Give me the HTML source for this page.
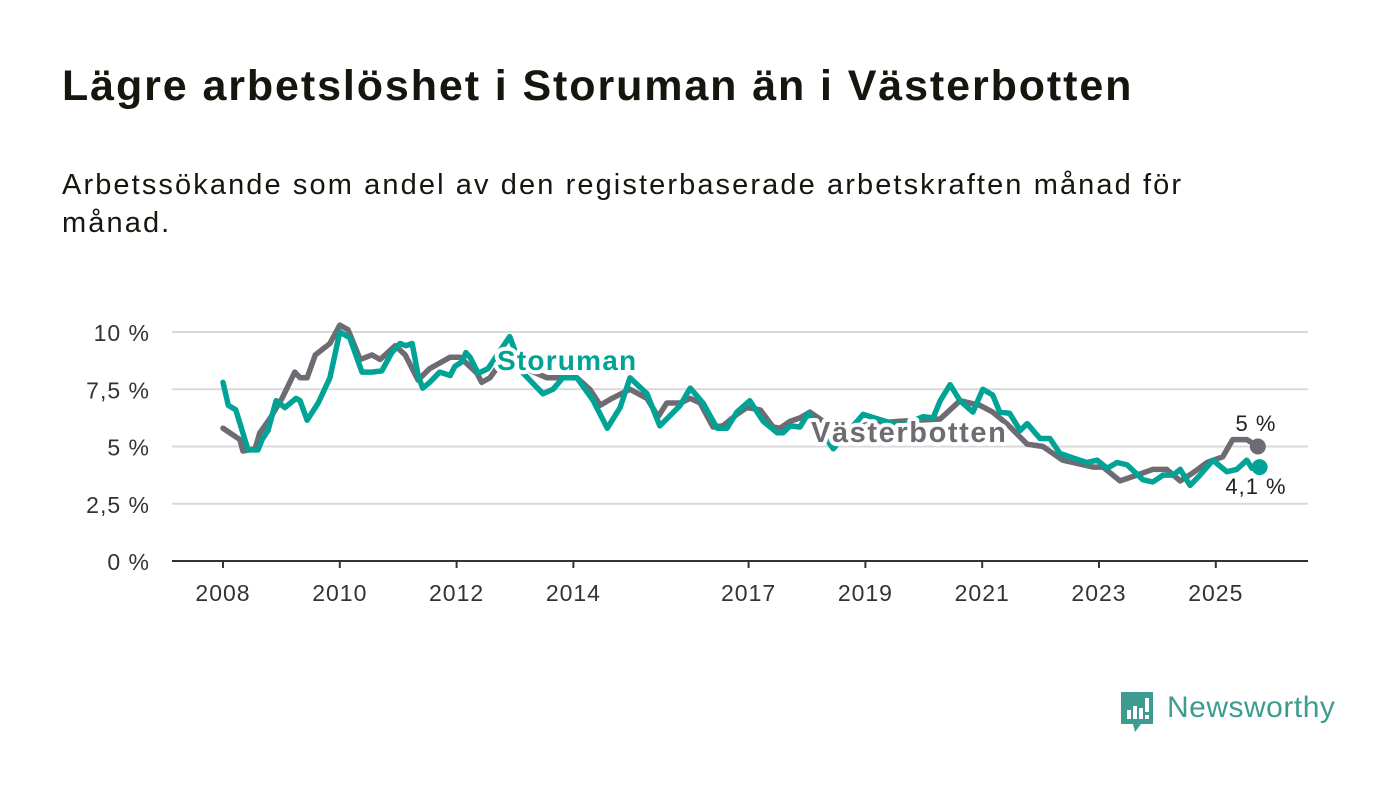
<!DOCTYPE html>
<html><head><meta charset="utf-8"><style>
body{margin:0;width:1400px;height:794px;background:#fff;font-family:"Liberation Sans",sans-serif;overflow:hidden;position:relative}
h1{position:absolute;left:62px;top:62px;margin:0;font-size:43px;font-weight:bold;color:#16160f;letter-spacing:1.9px}
p{position:absolute;left:62px;top:166px;margin:0;font-size:29px;line-height:38px;color:#16160f;width:1200px;letter-spacing:2.1px}
svg{position:absolute;left:0;top:0}
</style></head><body>
<h1>Lägre arbetslöshet i Storuman än i Västerbotten</h1>
<p>Arbetssökande som andel av den registerbaserade arbetskraften månad för månad.</p>
<svg id="c" width="1400" height="794"></svg>
<script>
const yTicks=[0,2.5,5,7.5,10];
const yTickLabels=["0 %","2,5 %","5 %","7,5 %","10 %"];
const xTicks=[2008,2010,2012,2014,2017,2019,2021,2023,2025];
const vbYears=[2008.00,2008.29,2008.34,2008.55,2008.63,2008.80,2009.01,2009.23,2009.32,2009.44,2009.58,2009.83,2010.00,2010.14,2010.35,2010.55,2010.69,2010.95,2011.12,2011.34,2011.54,2011.89,2012.06,2012.35,2012.43,2012.57,2012.74,2013.09,2013.55,2014.06,2014.28,2014.46,2014.66,2014.97,2015.26,2015.45,2015.60,2015.83,2016.00,2016.17,2016.39,2016.56,2016.80,2016.97,2017.20,2017.42,2017.54,2017.71,2017.88,2018.05,2018.57,2019.08,2019.59,2020.28,2020.62,2020.96,2021.18,2021.42,2021.77,2022.04,2022.38,2022.90,2023.07,2023.36,2023.65,2023.92,2024.16,2024.39,2024.61,2024.85,2025.12,2025.29,2025.53,2025.72];
const vbValues=[5.8,5.3,4.8,4.9,5.6,6.2,7.1,8.25,8.0,8.0,9.0,9.5,10.3,10.1,8.8,9.0,8.8,9.4,9.0,7.9,8.4,8.9,8.9,8.2,7.8,8.0,8.6,8.5,8.0,8.0,7.5,6.8,7.1,7.5,7.1,6.3,6.9,6.9,7.1,6.9,5.85,5.9,6.4,6.7,6.6,5.85,5.8,6.1,6.25,6.5,5.6,6.0,6.1,6.2,7.0,6.8,6.5,6.0,5.1,5.0,4.4,4.1,4.1,3.5,3.75,4.0,4.0,3.5,3.85,4.3,4.55,5.3,5.3,5.0];
const stYears=[2008.00,2008.09,2008.22,2008.43,2008.60,2008.67,2008.77,2008.91,2009.06,2009.25,2009.32,2009.44,2009.63,2009.83,2010.00,2010.17,2010.38,2010.55,2010.72,2010.89,2011.03,2011.13,2011.24,2011.34,2011.42,2011.54,2011.71,2011.89,2011.97,2012.09,2012.16,2012.23,2012.37,2012.54,2012.91,2013.14,2013.48,2013.65,2013.82,2014.06,2014.34,2014.58,2014.80,2014.97,2015.26,2015.48,2015.83,2016.00,2016.22,2016.46,2016.63,2016.80,2017.02,2017.25,2017.49,2017.59,2017.71,2017.88,2018.02,2018.45,2018.96,2019.59,2019.99,2020.16,2020.28,2020.45,2020.62,2020.84,2021.01,2021.18,2021.30,2021.47,2021.65,2021.77,2021.99,2022.16,2022.33,2022.55,2022.79,2022.97,2023.14,2023.31,2023.48,2023.75,2023.92,2024.10,2024.27,2024.39,2024.56,2024.73,2024.95,2025.19,2025.36,2025.53,2025.62,2025.75];
const stValues=[7.8,6.8,6.6,4.85,4.85,5.3,5.7,7.0,6.7,7.1,7.0,6.15,6.9,8.0,10.0,9.75,8.25,8.25,8.3,9.1,9.5,9.4,9.5,8.1,7.55,7.8,8.25,8.1,8.5,8.7,9.1,8.9,8.2,8.4,9.8,8.2,7.3,7.5,8.0,8.0,7.0,5.8,6.7,8.0,7.3,5.9,6.8,7.55,6.9,5.8,5.8,6.5,7.0,6.1,5.6,5.6,5.9,5.85,6.45,4.9,6.4,5.9,6.3,6.25,7.0,7.7,7.0,6.5,7.5,7.25,6.5,6.45,5.7,6.0,5.35,5.35,4.7,4.5,4.3,4.4,4.05,4.3,4.2,3.55,3.45,3.75,3.75,4.0,3.3,3.75,4.4,3.9,4.0,4.4,4.05,4.1];
const NS="http://www.w3.org/2000/svg",svg=document.getElementById('c');
const X=yr=>223+(yr-2008)*58.4, Y=v=>561-v*22.9;
function mk(t,a,txt){const e=document.createElementNS(NS,t);for(const k in a)e.setAttribute(k,a[k]);if(txt!=null)e.textContent=txt;svg.appendChild(e);return e;}
yTicks.forEach((t,i)=>{
 if(t>0){const g=mk('line',{x1:172,x2:1308,y1:Y(t),y2:Y(t),stroke:'#d9d9d9','stroke-width':2});
 
 }
 const l=mk('text',{x:150,y:Y(t)+9,'text-anchor':'end','font-size':23,'letter-spacing':1,fill:'#333'},yTickLabels[i]);
 
 
});
const ax=mk('line',{x1:172,x2:1308,y1:561,y2:561,stroke:'#333','stroke-width':2});


xTicks.forEach(t=>{
 const tk=mk('line',{x1:X(t),x2:X(t),y1:561,y2:568,stroke:'#333','stroke-width':2});
 
 
 const l=mk('text',{x:X(t),y:601,'text-anchor':'middle','font-size':23,'letter-spacing':1,fill:'#333'},String(t));
 
 
});
function line(ys,vs,col,name){
 const d=ys.map((y,i)=>(i?'L':'M')+X(y).toFixed(1)+','+Y(vs[i]).toFixed(1)).join('');
 const p=mk('path',{d:d,fill:'none',stroke:col,'stroke-width':5.5,'stroke-linejoin':'round','stroke-linecap':'round'});
 
 
}
line(vbYears,vbValues,'#6e6c72','vasterbotten-line');
line(stYears,stValues,'#00a396','storuman-line');
const d1=mk('circle',{cx:X(vbYears[vbYears.length-1]),cy:Y(vbValues[vbValues.length-1]),r:8,fill:'#6e6c72'});


const d2=mk('circle',{cx:X(stYears[stYears.length-1]),cy:Y(stValues[stValues.length-1]),r:8,fill:'#00a396'});


const e1=mk('text',{x:1256,y:431,'text-anchor':'middle','font-size':22,'letter-spacing':1,fill:'#222'},'5 %');


const e2=mk('text',{x:1256,y:494,'text-anchor':'middle','font-size':22,'letter-spacing':1,fill:'#222'},'4,1 %');


const s=mk('text',{x:497,y:370,'font-size':28,'letter-spacing':1.2,'font-weight':'bold',fill:'#00a396',stroke:'#fff','stroke-width':8,'paint-order':'stroke','stroke-linejoin':'round'},'Storuman');


const v=mk('text',{x:811,y:442,'font-size':29,'letter-spacing':1.6,'font-weight':'bold',fill:'#6e6c72',stroke:'#fff','stroke-width':8,'paint-order':'stroke','stroke-linejoin':'round'},'Västerbotten');


</script>
<div style="position:absolute;left:1119px;top:690px;display:flex;align-items:center">
<svg width="36" height="44" viewBox="0 0 36 44" style="position:static"><path d="M2 2h32v32H22l-6 8-2-8H2z" fill="#3d9c8f"/><rect x="8" y="20" width="4" height="9" fill="#fff"/><rect x="14" y="16" width="4" height="13" fill="#fff"/><rect x="20" y="18" width="4" height="11" fill="#fff"/><rect x="26" y="8" width="4" height="14" fill="#fff"/><rect x="26" y="25" width="4" height="4" fill="#fff"/></svg>
<span style="font-size:30px;letter-spacing:0.5px;color:#3d9c8f;margin-left:12px;margin-top:-8px">Newsworthy</span></div>
</body></html>
